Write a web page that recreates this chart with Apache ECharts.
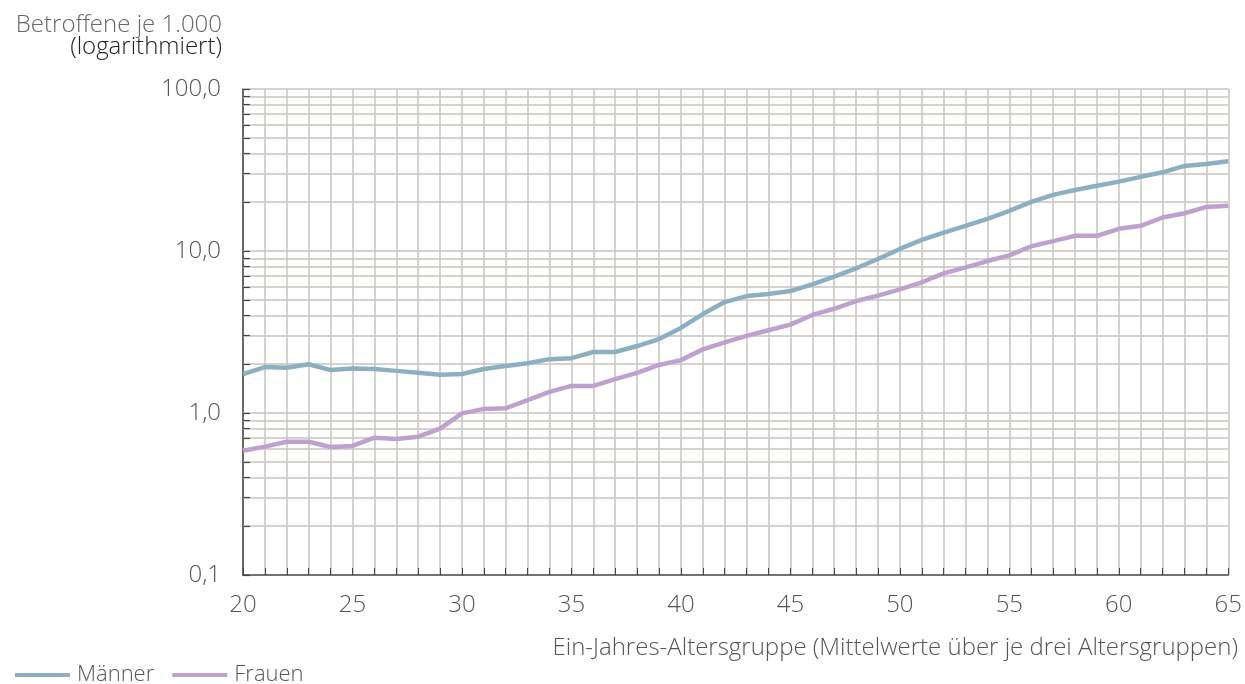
<!DOCTYPE html>
<html><head><meta charset="utf-8">
<script src="https://cdn.jsdelivr.net/npm/echarts@6/dist/echarts.min.js"></script>
<style>html,body{margin:0;padding:0;background:#fff}#c{width:1245px;height:684px}</style>
</head><body><div id="c"></div>
<script>
const ages = [20,21,22,23,24,25,26,27,28,29,30,31,32,33,34,35,36,37,38,39,40,41,42,43,44,45,46,47,48,49,50,51,52,53,54,55,56,57,58,59,60,61,62,63,64,65];
const maenner = [1.74,1.92,1.90,2.00,1.84,1.88,1.87,1.82,1.77,1.72,1.74,1.87,1.95,2.03,2.15,2.18,2.38,2.38,2.59,2.86,3.35,4.08,4.84,5.27,5.43,5.66,6.23,6.94,7.82,8.93,10.3,11.7,13.0,14.3,15.8,17.7,20.1,22.2,23.8,25.3,26.8,28.7,30.6,33.5,34.4,35.8];
const frauen = [0.585,0.62,0.665,0.665,0.617,0.626,0.704,0.69,0.714,0.80,0.995,1.06,1.07,1.20,1.35,1.47,1.47,1.62,1.77,1.98,2.12,2.47,2.73,2.99,3.24,3.51,4.03,4.40,4.91,5.30,5.80,6.41,7.28,7.93,8.67,9.40,10.7,11.5,12.4,12.4,13.7,14.3,16.1,17.1,18.7,19.0];
const seriesNames = ['Männer','Frauen'];
const yTitle1 = 'Betroffene je 1.000';
const yTitle2 = '(logarithmiert)';
const xTitle = 'Ein-Jahres-Altersgruppe (Mittelwerte über je drei Altersgruppen)';
const decades = [0.1,1,10];

const FONT = 'Open Sans';
const FS = 24;
const gridColor = '#c9c5bf';
const axisColor = '#555';

const gridVals = [];
decades.forEach(d => { for (let k = 1; k <= 9; k++) gridVals.push(+(k*d).toFixed(4)); });
gridVals.push(100);

const hLines = gridVals.filter(v => v > 0.1).map(v => [{coord:[20, v]}, {coord:[65, v]}]);
const tickLines = gridVals.map(v => [{coord:[20, v]}, {coord:[20.32, v]}]);

const chart = echarts.init(document.getElementById('c'), null, {renderer:'canvas'});
chart.setOption({
  animation: false,
  textStyle: {fontFamily: FONT},
  grid: {left: 243, right: 15, top: 89, bottom: 109},
  graphic: [
    {type: 'text', x: 222, y: 25, style: {text: yTitle1, fontFamily: FONT, fontSize: FS, fontWeight: 300, fill: '#666', align: 'right', verticalAlign: 'middle'}},
    {type: 'text', x: 222, y: 47, style: {text: yTitle2, fontFamily: FONT, fontSize: FS, fontWeight: 300, fill: '#222', align: 'right', verticalAlign: 'middle'}},
    {type: 'text', x: 1238, y: 648, style: {text: xTitle, fontFamily: FONT, fontSize: FS, fontWeight: 300, fill: '#555', align: 'right', verticalAlign: 'middle'}}
  ],
  legend: {left: 10, top: 659, icon: 'rect', itemWidth: 55, itemHeight: 4, itemGap: 18,
    textStyle: {fontFamily: FONT, fontSize: 22, fontWeight: 300, color: '#555', padding: [0,0,0,2]}, data: seriesNames},
  xAxis: {type: 'value', min: 20, max: 65, interval: 5,
    axisLine: {show: true, lineStyle: {color: '#444', width: 1.5}},
    axisTick: {show: true, inside: true, length: 7, lineStyle: {color: '#444'}},
    minorTick: {show: true, splitNumber: 5, length: 7, lineStyle: {color: '#444'}},
    splitLine: {show: true, lineStyle: {color: gridColor, width: 1.5}},
    minorSplitLine: {show: true, lineStyle: {color: gridColor, width: 1.5}},
    axisLabel: {fontFamily: FONT, fontSize: FS, fontWeight: 300, color: axisColor, margin: 18}},
  yAxis: {type: 'log', logBase: 10, min: 0.1, max: 100,
    axisLine: {show: true, lineStyle: {color: '#444', width: 1.5}},
    axisTick: {show: false},
    splitLine: {show: false},
    axisLabel: {fontFamily: FONT, fontSize: FS, fontWeight: 300, color: axisColor, margin: 22,
      formatter: v => v.toFixed(1).replace('.', ',')}},
  series: [
    {type: 'line', name: '_grid', data: [], silent: true, z: 1,
     markLine: {silent: true, symbol: ['none','none'], label: {show: false},
       lineStyle: {color: gridColor, width: 1.5, type: 'solid'}, data: hLines}},
    {type: 'line', name: '_ticks', data: [], silent: true, z: 3,
     markLine: {silent: true, symbol: ['none','none'], label: {show: false},
       lineStyle: {color: '#444', width: 1.2, type: 'solid'}, data: tickLines}},
    {type: 'line', name: seriesNames[0], data: ages.map((a,i) => [a, maenner[i]]),
     showSymbol: false, symbol: 'none', z: 5, lineStyle: {color: '#8cb0c2', width: 4.5}, itemStyle: {color: '#8cb0c2'}},
    {type: 'line', name: seriesNames[1], data: ages.map((a,i) => [a, frauen[i]]),
     showSymbol: false, symbol: 'none', z: 5, lineStyle: {color: '#bfa1d0', width: 4.5}, itemStyle: {color: '#bfa1d0'}}
  ]
});
</script></body></html>
